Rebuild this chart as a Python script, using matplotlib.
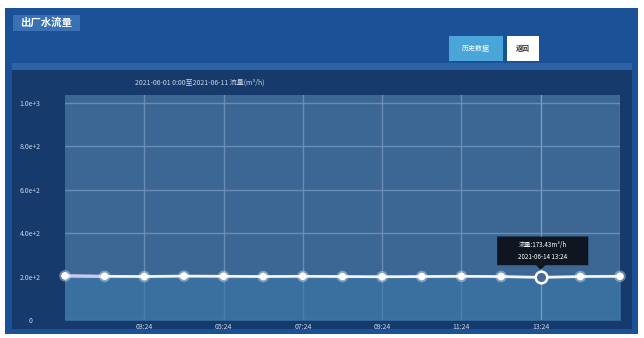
import matplotlib
matplotlib.use('Agg')
import matplotlib.pyplot as plt
from matplotlib.patches import Rectangle, FancyBboxPatch, Polygon

plt.rcParams['font.family'] = ['Noto Sans CJK SC', 'DejaVu Sans']

# data
times = ['01:24', '02:24', '03:24', '04:24', '05:24', '06:24', '07:24', '08:24',
         '09:24', '10:24', '11:24', '12:24', '13:24', '14:24', '15:24']
flow = [203, 201, 200, 202, 201, 200, 201, 200, 199, 200, 201, 200, 196, 200, 201]
tick_labels = ['03:24', '05:24', '07:24', '09:24', '11:24', '13:24']
ytick_vals = [0, 200, 400, 600, 800, 1000]
ytick_text = ['0', '2.0e+2', '4.0e+2', '6.0e+2', '8.0e+2', '1.0e+3']
hover = 12

W, H = 644, 338
fig = plt.figure(figsize=(W / 100, H / 100), dpi=100)
fig.patch.set_facecolor('white')


def box(x0, y0, x1, y1, color, **kw):
    # pixel coords from the top left corner
    r = Rectangle((x0 / W, 1 - y1 / H), (x1 - x0) / W, (y1 - y0) / H,
                  transform=fig.transFigure, facecolor=color, edgecolor='none',
                  zorder=-10, **kw)
    fig.patches.append(r)


box(5, 8, 638, 334, '#1b5297')
box(12, 63, 632, 70, '#2b63a6')
box(12, 70, 632, 329, '#173a6c')
box(13, 15, 80, 31, '#3a70b4')
box(449, 36, 503, 61, '#4aa6d8')
box(507, 36, 539, 61, '#ffffff')

fig.text(46 / W, 1 - 23 / H, '出厂水流量', color='white', fontsize=7.5,
         fontweight='bold', ha='center', va='center')
fig.text(476 / W, 1 - 48.5 / H, '历史数据', color='white', fontsize=5,
         ha='center', va='center')
fig.text(523 / W, 1 - 48.5 / H, '返回', color='#333333', fontsize=5,
         fontweight='bold', ha='center', va='center')
fig.text(200 / W, 1 - 83 / H, '2021-06-01 0:00至2021-06-11 流量(m³/h)',
         color='#c8d6ea', fontsize=5, ha='center', va='center')

ax = fig.add_axes([65 / W, 1 - 320 / H, 555 / W, 225 / H])
ax.set_facecolor('#3c6693')
x = list(range(len(times)))
ax.fill_between(x, flow, 0, color='#3a78a8', alpha=0.6, zorder=1)
ax.plot(x, flow, color='#f2f4fa', lw=2, zorder=3)
ax.plot(x[:2], flow[:2], color='#c9c8f0', lw=2, zorder=3)
others = [i for i in x if i != hover]
ax.scatter(others, [flow[i] for i in others], s=70, color='white', alpha=0.35,
           edgecolors='none', zorder=4, clip_on=False)
ax.scatter(others, [flow[i] for i in others], s=30, color='white',
           edgecolors='none', zorder=5, clip_on=False)
ax.scatter([hover], [flow[hover]], s=70, color='#4a6a96', edgecolors='white',
           linewidths=1.8, zorder=5)
ax.axvline(hover, color='#7f9cc0', lw=0.8, zorder=2)

ax.set_xlim(0, len(times) - 1)
ax.set_ylim(0, 1035)
ax.set_xticks([times.index(t) for t in tick_labels] + [len(times) - 1])
ax.set_xticklabels(tick_labels + [''])
ax.set_yticks(ytick_vals)
ax.set_yticklabels(ytick_text)
ax.grid(True, color='#7496bd', lw=1, alpha=0.8)
ax.set_axisbelow(True)
ax.tick_params(axis='both', length=0, colors='#c8d6ea', labelsize=5)
ax.tick_params(axis='y', pad=25)
ax.tick_params(axis='x', pad=2)
for lab in ax.get_yticklabels():
    lab.set_ha('center')
for s in ax.spines.values():
    s.set_visible(False)

# tooltip
tip = FancyBboxPatch((hover - 1.1, 252), 2.3, 132, boxstyle='round,pad=0,rounding_size=0.05',
                     facecolor='#0b0f18', edgecolor='none', alpha=0.92, zorder=6)
ax.add_patch(tip)
ax.add_patch(Polygon([[hover - 0.12, 252], [hover + 0.12, 252], [hover, 232]],
                     closed=True, facecolor='#0b0f18', edgecolor='none', zorder=6))
ax.text(hover + 0.05, 345, '流量:173.43m³/h', color='white', fontsize=4.5,
        ha='center', va='center', zorder=7)
ax.text(hover + 0.05, 290, '2021-06-14 13:24', color='white', fontsize=4.5,
        ha='center', va='center', zorder=7)

plt.savefig('out.png', dpi=100)
